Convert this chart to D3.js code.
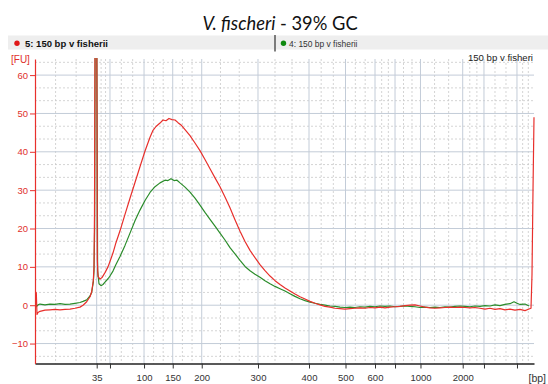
<!DOCTYPE html>
<html>
<head>
<meta charset="utf-8">
<script src="https://cdn.jsdelivr.net/npm/d3@7"></script>
<style>
  body { margin: 0; background: #ffffff; }
  svg { display: block; }
</style>
</head>
<body>
<svg id="chart" width="548" height="384"></svg>
<script>
// Ladder peaks: migration time (s) of each size marker and its label
const ladderTimes = [49.89, 52.02, 57.48, 62.08, 66.73, 75.75, 83.93, 89.78, 94.51, 97.72, 101.80, 108.57, 111.98, 117.27];
const ladderBp    = [35, 50, 100, 150, 200, 300, 400, 500, 600, 700, 1000, 2000, 3000, 7000];
const tickLabels  = ["35", "", "100", "150", "200", "300", "400", "500", "600", "", "1000", "2000", "", ""];
const fuTicks     = [-10, 0, 10, 20, 30, 40, 50, 60];

// Sample 5 (red): migration time (s) and fluorescence (FU)
const sample5Time = [40.00, 40.08, 40.21, 40.32, 40.48, 40.80, 41.60, 42.40, 43.21, 44.01, 44.81, 45.61, 46.41, 47.21, 47.70, 48.29, 48.82, 49.09, 49.35, 49.46, 49.54, 49.62, 49.91, 49.99, 50.10, 50.42, 50.74, 51.22, 51.70, 52.02, 52.50, 52.98, 53.63, 54.43, 55.23, 56.03, 56.83, 57.64, 58.44, 58.92, 59.40, 60.04, 60.52, 61.00, 61.48, 61.96, 62.45, 62.93, 63.41, 64.05, 64.85, 65.65, 66.45, 67.25, 68.06, 68.86, 69.66, 70.46, 71.26, 72.06, 72.87, 73.67, 74.47, 75.27, 76.07, 76.87, 77.68, 78.48, 79.28, 80.08, 80.88, 81.68, 82.48, 83.29, 84.09, 84.89, 85.69, 86.49, 87.29, 88.10, 88.90, 89.70, 90.50, 91.30, 92.10, 92.91, 93.71, 94.51, 95.31, 96.11, 96.91, 97.72, 98.52, 99.32, 100.12, 100.92, 101.72, 102.52, 103.33, 104.13, 104.93, 105.73, 106.53, 107.33, 108.14, 108.94, 109.74, 110.54, 111.34, 112.14, 112.95, 113.75, 114.55, 115.35, 116.15, 116.95, 117.76, 118.56, 119.20, 119.52, 119.68, 119.84, 120.00];
const sample5FU   = [0.0, 3.5, 3.2, -2.4, -1.9, -1.6, -1.3, -1.2, -1.1, -1.2, -1.1, -1.0, -0.8, -0.5, 0.0, 0.9, 2.2, 3.5, 6.5, 10, 24, 70, 70, 12, 7.5, 6.8, 7.2, 8.5, 10.0, 11.4, 13.6, 16.3, 19.4, 23.7, 27.9, 32.0, 36.1, 40.2, 43.8, 45.6, 46.6, 47.5, 48.3, 48.1, 48.7, 48.4, 48.3, 47.6, 47.0, 45.8, 44.2, 42.3, 40.3, 38.0, 35.6, 33.2, 30.9, 28.2, 25.4, 22.3, 19.3, 16.6, 14.3, 12.4, 10.6, 9.0, 7.6, 6.4, 5.4, 4.5, 3.7, 2.9, 2.2, 1.6, 1.0, 0.5, 0.1, -0.3, -0.5, -0.8, -0.9, -1.0, -0.9, -0.8, -0.7, -0.8, -0.6, -0.7, -0.5, -0.7, -0.5, -0.4, -0.3, -0.1, 0.0, 0.1, -0.2, -0.5, -0.7, -0.8, -0.7, -0.6, -0.5, -0.6, -0.5, -0.6, -0.7, -0.6, -0.8, -1.0, -0.8, -1.1, -0.9, -1.2, -1.0, -1.3, -1.1, -1.4, -1.0, -0.8, 8, 30, 49];

// Sample 4 (green): migration time (s) and fluorescence (FU)
const sample4Time = [40.00, 40.08, 40.24, 40.48, 40.80, 41.60, 42.40, 43.21, 44.01, 44.81, 45.61, 46.41, 47.21, 47.70, 48.29, 48.82, 49.09, 49.35, 49.46, 49.56, 49.65, 49.91, 50.04, 50.26, 50.58, 50.90, 51.22, 51.70, 52.02, 52.50, 52.98, 53.63, 54.43, 55.23, 56.03, 56.83, 57.64, 58.44, 59.24, 60.04, 60.84, 61.32, 61.80, 62.29, 62.77, 63.25, 64.05, 64.85, 65.65, 66.45, 67.25, 68.06, 68.86, 69.66, 70.46, 71.26, 72.06, 72.87, 73.67, 74.47, 75.27, 76.07, 76.87, 77.68, 78.48, 79.28, 80.08, 80.88, 81.68, 82.48, 83.29, 84.09, 84.89, 85.69, 86.49, 87.29, 88.10, 88.90, 89.70, 90.50, 91.30, 92.10, 92.91, 93.71, 94.51, 95.31, 96.11, 96.91, 97.72, 98.52, 99.32, 100.12, 100.92, 101.72, 102.52, 103.33, 104.13, 104.93, 105.73, 106.53, 107.33, 108.14, 108.94, 109.74, 110.54, 111.34, 112.14, 112.95, 113.75, 114.55, 115.35, 116.15, 116.79, 117.27, 117.76, 118.56, 119.20];
const sample4FU   = [0.0, 1.0, -0.4, 0.1, 0.3, 0.1, 0.3, 0.2, 0.4, 0.2, 0.3, 0.5, 0.7, 1.0, 1.4, 2.4, 3.4, 6.0, 9, 20, 70, 70, 9, 5.6, 5.1, 5.4, 6.0, 6.9, 7.6, 8.9, 10.6, 12.7, 15.6, 18.8, 22.0, 24.8, 27.3, 29.4, 30.9, 31.9, 32.6, 32.5, 33.0, 32.5, 32.6, 31.9, 30.8, 29.5, 27.9, 26.1, 24.2, 22.4, 20.6, 18.8, 17.0, 15.0, 13.4, 11.7, 10.1, 9.0, 8.1, 7.3, 6.4, 5.6, 4.9, 4.3, 3.7, 3.0, 2.3, 1.7, 1.2, 0.8, 0.5, 0.2, 0.0, -0.2, -0.3, -0.5, -0.6, -0.5, -0.6, -0.4, -0.5, -0.3, -0.4, -0.2, -0.3, -0.2, -0.4, -0.3, -0.2, -0.3, -0.4, -0.6, -0.5, -0.6, -0.5, -0.6, -0.4, -0.5, -0.3, -0.2, -0.3, -0.4, -0.2, -0.3, -0.1, -0.2, 0.1, -0.1, 0.2, 0.4, 0.9, 0.5, 0.2, 0.3, -0.2];

const sampleNames = ["5: 150 bp v fisherii", "4: 150 bp v fisherii"];
const sampleColors = ["#e8302c", "#2b8c2b"];

const svg = d3.select("#chart");
const W = 548, H = 384;
const plot = { left: 35, right: 534, top: 59, bottom: 363.5 };

const x = d3.scaleLinear().domain([40, 120]).range([plot.left, plot.right]);
const y = d3.scaleLinear().domain([-15.2, 64.2]).range([plot.bottom, plot.top]);

svg.append("rect").attr("width", W).attr("height", H).attr("fill", "#ffffff");

// Title
const title = svg.append("text")
  .attr("x", 280).attr("y", 30)
  .attr("text-anchor", "middle")
  .attr("font-family", "Lato, 'Open Sans', sans-serif")
  .attr("font-size", 18.3)
  .attr("fill", "#111");
title.append("tspan").attr("font-style", "italic").text("V. fischeri");
title.append("tspan").text(" - 39% GC");

// Sample header band
svg.append("rect")
  .attr("x", 8).attr("y", 35.5).attr("width", W - 8).attr("height", 14)
  .attr("fill", "#eeeeee");
svg.append("circle").attr("cx", 17).attr("cy", 43.3).attr("r", 2.7).attr("fill", "#e01818");
svg.append("text")
  .attr("x", 25).attr("y", 46.8)
  .attr("font-family", "'Liberation Sans', Arial, sans-serif")
  .attr("font-size", 9).attr("font-weight", "bold")
  .attr("textLength", 83).attr("lengthAdjust", "spacingAndGlyphs")
  .attr("fill", "#111")
  .text(sampleNames[0]);
svg.append("line")
  .attr("x1", 275).attr("x2", 275).attr("y1", 35).attr("y2", 51.5)
  .attr("stroke", "#555").attr("stroke-width", 1.5);
svg.append("circle").attr("cx", 283.5).attr("cy", 43.3).attr("r", 2.7).attr("fill", "#108a10");
svg.append("text")
  .attr("x", 289).attr("y", 46.8)
  .attr("font-family", "'Liberation Sans', Arial, sans-serif")
  .attr("font-size", 8.6)
  .attr("textLength", 68.5).attr("lengthAdjust", "spacingAndGlyphs")
  .attr("fill", "#333")
  .text(sampleNames[1]);

// Grid: minor dashed lines at thirds of every interval, major solid lines at ticks
const xBounds = [x.domain()[0], ...ladderTimes, x.domain()[1]];
const xMinor = [];
for (let i = 0; i < xBounds.length - 1; i++) {
  const a = xBounds[i], b = xBounds[i + 1];
  xMinor.push(a + (b - a) / 3, a + 2 * (b - a) / 3);
}
const yMinor = d3.range(-20, 70, 10)
  .flatMap(v => [v + 10 / 3, v + 20 / 3])
  .filter(v => v > y.domain()[0] && v < y.domain()[1]);

const grid = svg.append("g");
grid.selectAll(".xminor").data(xMinor).join("line")
  .attr("x1", d => x(d)).attr("x2", d => x(d))
  .attr("y1", plot.top).attr("y2", plot.bottom)
  .attr("stroke", "#c9c9c9").attr("stroke-width", 0.8).attr("stroke-dasharray", "2,2");
grid.selectAll(".yminor").data(yMinor).join("line")
  .attr("x1", plot.left).attr("x2", plot.right)
  .attr("y1", d => y(d)).attr("y2", d => y(d))
  .attr("stroke", "#c9c9c9").attr("stroke-width", 0.8).attr("stroke-dasharray", "2,2");
grid.selectAll(".xmajor").data(ladderTimes).join("line")
  .attr("x1", d => x(d)).attr("x2", d => x(d))
  .attr("y1", plot.top).attr("y2", plot.bottom)
  .attr("stroke", "#c3ccd8").attr("stroke-width", 1);
grid.selectAll(".ymajor").data(fuTicks).join("line")
  .attr("x1", plot.left).attr("x2", plot.right)
  .attr("y1", d => y(d)).attr("y2", d => y(d))
  .attr("stroke", "#c3ccd8").attr("stroke-width", 1);

// Traces
svg.append("clipPath").attr("id", "plotClip")
  .append("rect")
  .attr("x", plot.left).attr("y", plot.top - 1)
  .attr("width", plot.right - plot.left + 1).attr("height", plot.bottom - plot.top + 1);

const line = d3.line().x(d => x(d[0])).y(d => y(d[1]));
const traces = svg.append("g").attr("clip-path", "url(#plotClip)");
traces.append("path")
  .datum(sample4Time.map((t, i) => [t, sample4FU[i]]))
  .attr("d", line).attr("fill", "none")
  .attr("stroke", sampleColors[1]).attr("stroke-width", 1.2).attr("stroke-linejoin", "round");
traces.append("path")
  .datum(sample5Time.map((t, i) => [t, sample5FU[i]]))
  .attr("d", line).attr("fill", "none")
  .attr("stroke", sampleColors[0]).attr("stroke-width", 1.2).attr("stroke-linejoin", "round");

// Axes
const xAxis = d3.axisBottom(x)
  .tickValues(ladderTimes)
  .tickFormat((d, i) => tickLabels[i])
  .tickSize(5).tickSizeOuter(0);
const gx = svg.append("g").attr("transform", `translate(0,${plot.bottom})`).call(xAxis);
gx.select(".domain").attr("stroke", "#222").attr("stroke-width", 1.6);
gx.selectAll(".tick line").attr("stroke", "#333");
gx.selectAll(".tick text")
  .attr("font-family", "'Liberation Sans', Arial, sans-serif")
  .attr("font-size", 9.5).attr("fill", "#333").attr("dy", "1.0em");

const yAxis = d3.axisLeft(y).tickValues(fuTicks).tickSize(5).tickSizeOuter(0);
const gy = svg.append("g").attr("transform", `translate(${plot.left},0)`).call(yAxis);
gy.select(".domain").attr("stroke", "#e8302c").attr("stroke-width", 1.2);
gy.selectAll(".tick line").attr("stroke", "#e8302c");
gy.selectAll(".tick text")
  .attr("font-family", "'Liberation Sans', Arial, sans-serif")
  .attr("font-size", 9.5).attr("fill", "#e0302c").attr("x", -7);

// Unit labels
svg.append("text")
  .attr("x", 11).attr("y", 63)
  .attr("font-family", "'Liberation Sans', Arial, sans-serif")
  .attr("font-size", 10).attr("fill", "#e0302c")
  .text("[FU]");
svg.append("text")
  .attr("x", 546).attr("y", 381.5).attr("text-anchor", "end")
  .attr("font-family", "'Liberation Sans', Arial, sans-serif")
  .attr("font-size", 10.5).attr("fill", "#333")
  .text("[bp]");

// Run label, upper right
svg.append("text")
  .attr("x", 533).attr("y", 60.5).attr("text-anchor", "end")
  .attr("font-family", "'Liberation Sans', Arial, sans-serif")
  .attr("font-size", 9.6).attr("fill", "#222")
  .text("150 bp v fisheri");
</script>
</body>
</html>
